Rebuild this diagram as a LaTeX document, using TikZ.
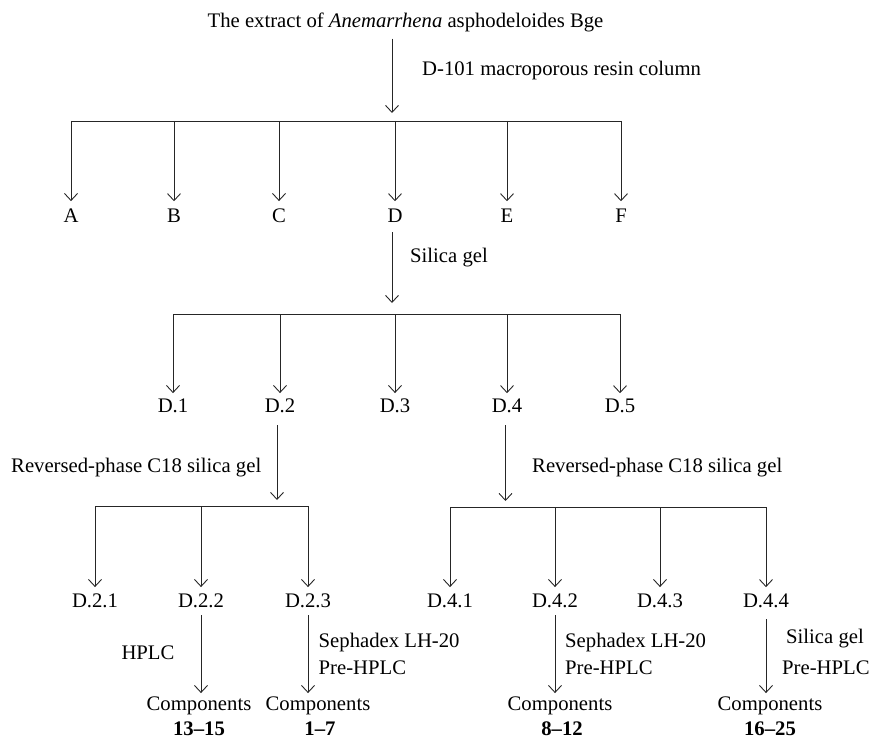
\documentclass[tikz,border=0pt]{standalone}
\usepackage{fontspec}
\setmainfont{Liberation Serif}
\usetikzlibrary{arrows.meta,calc}
\begin{document}
\begin{tikzpicture}[x=1pt,y=-1pt,
  every node/.style={inner sep=0pt,anchor=base,font=\fontsize{20.7}{24}\selectfont},
  lbl/.style={anchor=base west},
  ln/.style={line width=0.9pt, draw=black!85},
  arr/.style={ln,-{Straight Barb[length=7pt,width=13pt]}},
]
\useasboundingbox (0,0) rectangle (873,738);

% ---- level 0
\node (title) at (405.5,28) {The extract of \textit{Anemarrhena} asphodeloides Bge};
\node[lbl] (m1) at (422,76) {D-101 macroporous resin column};
\coordinate (j1) at (392,121);
\draw[arr] ($(title.south -| j1)+(0,6)$) -- ($(j1)+(0,-8)$);

% ---- level 1
\node (A) at (71,223) {A};
\node (B) at (174,223) {B};
\node (C) at (279,223) {C};
\node (D) at (395,223) {D};
\node (E) at (507,223) {E};
\node (F) at (621,223) {F};
\draw[ln] (A |- j1) -- (F |- j1);
\foreach \n in {A,B,C,D,E,F}
  \draw[arr] (\n |- j1) -- ($(\n.north)+(0,-8)$);

\node[lbl] (m2) at (410,262) {Silica gel};
\coordinate (j2) at (392,314);
\draw[arr] ($(D.south -| j2)+(0,9)$) -- ($(j2)+(0,-11)$);

% ---- level 2
\node (D1) at (173,412) {D.1};
\node (D2) at (280,412) {D.2};
\node (D3) at (395,412) {D.3};
\node (D4) at (507,412) {D.4};
\node (D5) at (620,412) {D.5};
\draw[ln] (D1 |- j2) -- (D5 |- j2);
\foreach \n in {D1,D2,D3,D4,D5}
  \draw[arr] (\n |- j2) -- ($(\n.north)+(0,-5)$);

\node[lbl] (m3) at (11,472) {Reversed-phase C18 silica gel};
\node[lbl] (m4) at (532,472) {Reversed-phase C18 silica gel};
\coordinate (j3) at (277,506);
\coordinate (j4) at (505.5,507);
\draw[arr] ($(D2.south -| j3)+(0,13)$) -- ($(j3)+(0,-6)$);
\draw[arr] ($(D4.south -| j4)+(0,13)$) -- ($(j4)+(0,-6)$);

% ---- level 3
\node (D21) at (95,607) {D.2.1};
\node (D22) at (201,607) {D.2.2};
\node (D23) at (308,607) {D.2.3};
\node (D41) at (450,607) {D.4.1};
\node (D42) at (555,607) {D.4.2};
\node (D43) at (660,607) {D.4.3};
\node (D44) at (766,607) {D.4.4};
\draw[ln] (D21 |- j3) -- (D23 |- j3);
\draw[ln] (D41 |- j4) -- (D44 |- j4);
\foreach \n in {D21,D22,D23}
  \draw[arr] (\n |- j3) -- ($(\n.north)+(0,-6)$);
\foreach \n in {D41,D42,D43,D44}
  \draw[arr] (\n |- j4) -- ($(\n.north)+(0,-6)$);

% ---- level 4
\node (C1) at (199,710) {Components};
\node (N1) at (199,735) {\textbf{13--15}};
\node (C2) at (318,710) {Components};
\node (N2) at (320,735) {\textbf{1--7}};
\node (C3) at (560,710) {Components};
\node (N3) at (562,735) {\textbf{8--12}};
\node (C4) at (770,710) {Components};
\node (N4) at (770,735) {\textbf{16--25}};

\draw[arr] ($(D22.south)+(0,8)$) -- ($(D22.south |- C1.north)+(0,-3)$);
\draw[arr] ($(D23.south)+(0,8)$) -- ($(D23.south |- C2.north)+(0,-3)$);
\draw[arr] ($(D42.south)+(0,8)$) -- ($(D42.south |- C3.north)+(0,-3)$);
\draw[arr] ($(D44.south)+(0,12)$) -- ($(D44.south |- C4.north)+(0,-3)$);

\node (h1) at (148,659) {HPLC};
\node[lbl] (s1) at (318.5,647) {Sephadex LH-20};
\node[lbl] (p1) at (318.5,674) {Pre-HPLC};
\node[lbl] (s2) at (565,647) {Sephadex LH-20};
\node[lbl] (p2) at (565,674) {Pre-HPLC};
\node[lbl] (s3) at (786,643) {Silica gel};
\node[lbl] (p3) at (782,674) {Pre-HPLC};
\end{tikzpicture}
\end{document}
